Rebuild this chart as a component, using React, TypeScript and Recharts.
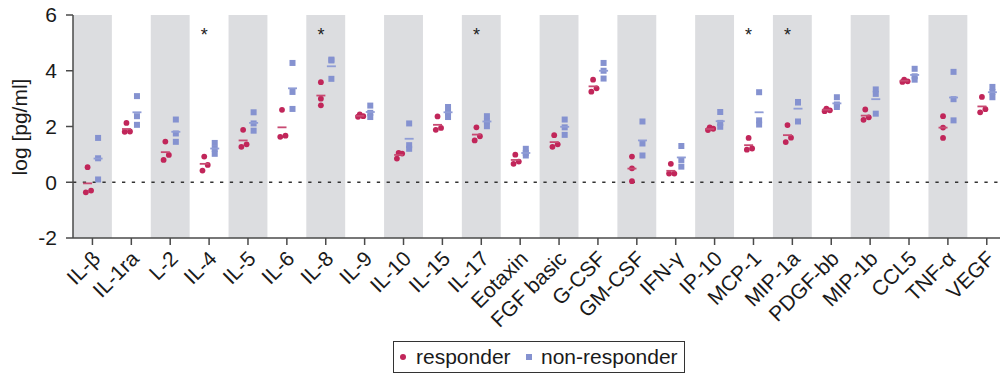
import React from 'react';
import { ScatterChart, Scatter, XAxis, YAxis, ReferenceArea, ReferenceLine } from 'recharts';

const categories = ['IL-β', 'IL-1ra', 'L-2', 'IL-4', 'IL-5', 'IL-6', 'IL-8', 'IL-9', 'IL-10', 'IL-15', 'IL-17', 'Eotaxin', 'FGF basic', 'G-CSF', 'GM-CSF', 'IFN-γ', 'IP-10', 'MCP-1', 'MIP-1a', 'PDGF-bb', 'MIP-1b', 'CCL5', 'TNF-α', 'VEGF'];

const responder: number[][] = [
  [0.54, -0.30, -0.36],
  [2.13, 1.82, 1.81],
  [1.46, 0.98, 0.80],
  [0.92, 0.62, 0.42],
  [1.88, 1.36, 1.27],
  [2.60, 1.67, 1.63],
  [3.59, 3.00, 2.76],
  [2.43, 2.37, 2.35],
  [1.05, 1.03, 0.85],
  [2.36, 1.95, 1.88],
  [1.97, 1.65, 1.50],
  [0.99, 0.74, 0.66],
  [1.69, 1.36, 1.27],
  [3.68, 3.37, 3.25],
  [0.92, 0.50, 0.04],
  [0.66, 0.31, 0.31],
  [1.97, 1.92, 1.87],
  [1.59, 1.21, 1.17],
  [2.05, 1.60, 1.44],
  [2.64, 2.58, 2.55],
  [2.61, 2.33, 2.24],
  [3.68, 3.62, 3.60],
  [2.37, 1.96, 1.59],
  [3.06, 2.62, 2.51],
];
const responderMean = [-0.04, 1.91, 1.08, 0.66, 1.50, 1.97, 3.11, 2.38, 0.98, 2.06, 1.71, 0.80, 1.44, 3.44, 0.49, 0.41, 1.91, 1.33, 1.69, 2.60, 2.39, 3.64, 1.96, 2.72];

const nonResponder: number[][] = [
  [1.59, 0.86, 0.10],
  [3.09, 2.37, 2.06],
  [2.25, 1.75, 1.45],
  [1.41, 1.20, 1.02],
  [2.51, 2.11, 1.85],
  [4.28, 3.24, 2.63],
  [4.40, 4.37, 3.71],
  [2.75, 2.49, 2.34],
  [2.11, 1.33, 1.20],
  [2.70, 2.50, 2.34],
  [2.37, 2.18, 2.01],
  [1.20, 1.05, 0.96],
  [2.25, 1.97, 1.70],
  [4.28, 4.00, 3.72],
  [2.18, 1.39, 0.96],
  [1.30, 0.80, 0.56],
  [2.52, 2.13, 1.99],
  [3.23, 2.22, 2.07],
  [2.88, 2.86, 2.18],
  [3.05, 2.79, 2.70],
  [3.33, 3.17, 2.46],
  [4.07, 3.80, 3.68],
  [3.96, 2.98, 2.22],
  [3.42, 3.24, 3.05],
];
const nonResponderMean = [0.85, 2.51, 1.81, 1.21, 2.13, 3.37, 4.16, 2.52, 1.56, 2.51, 2.18, 1.05, 1.99, 4.00, 1.50, 0.89, 2.19, 2.51, 2.64, 2.83, 2.98, 3.85, 3.04, 3.23];

const significant = ['IL-4', 'IL-8', 'IL-17', 'MCP-1', 'MIP-1a'];
const starLevel = 5.43;
const yTicks = [-2, 0, 2, 4, 6];

// layout offsets (category units)
const RESP_OFF = -0.125;
const RESP_SPREAD = 0.045;
const NON_OFF = 0.145;
const CLOSE = 0.22;

const RED = '#c1265a';
const RED_MEAN = '#c84a72';
const BLUE = '#8592d0';
const BLUE_MEAN = '#909dd6';
const FONT = '"Liberation Sans", Arial, Helvetica, sans-serif';

const respData: { x: number; y: number }[] = [];
responder.forEach((vals, i) => {
  const s = [...vals].sort((a, b) => b - a);
  const spread = s[1] - s[2] < CLOSE || s[0] - s[1] < CLOSE;
  respData.push({ x: i + RESP_OFF, y: s[0] });
  respData.push({ x: i + RESP_OFF + (spread ? 2 * RESP_SPREAD : 0), y: s[1] });
  respData.push({ x: i + RESP_OFF - (spread ? RESP_SPREAD : 0), y: s[2] });
});
const nonData = nonResponder.flatMap((vals, i) => vals.map((v) => ({ x: i + NON_OFF, y: v })));
const respMeanData = responderMean.map((v, i) => ({ x: i + RESP_OFF, y: v }));
const nonMeanData = nonResponderMean.map((v, i) => ({ x: i + NON_OFF, y: v }));
const starData = significant.map((c) => ({ x: categories.indexOf(c) + RESP_OFF, y: starLevel }));

const Dot = (p: any) => <circle cx={p.cx} cy={p.cy} r={2.9} fill={RED} />;
const Sq = (p: any) => <rect x={p.cx - 3} y={p.cy - 3} width={6} height={6} fill={BLUE} />;
const MeanR = (p: any) => <line x1={p.cx - 4.5} x2={p.cx + 4.5} y1={p.cy} y2={p.cy} stroke={RED_MEAN} strokeWidth={1.8} />;
const MeanB = (p: any) => <line x1={p.cx - 4.5} x2={p.cx + 4.5} y1={p.cy} y2={p.cy} stroke={BLUE_MEAN} strokeWidth={1.8} />;
const Star = (p: any) => (
  <text x={p.cx} y={p.cy + 10} textAnchor="middle" fontSize={18} fill="#222" fontFamily={FONT}>*</text>
);

const XTick = (p: any) => {
  const { x, y, payload } = p;
  return (
    <text transform={`translate(${x + 9},${y + 13}) rotate(-45)`} textAnchor="end" fontSize={21} fill="#1a1a1a" fontFamily={FONT}>
      {categories[payload.value]}
    </text>
  );
};

const YLabel = () => (
  <text transform="translate(27,127) rotate(-90)" textAnchor="middle" fontSize={21} fill="#1a1a1a" fontFamily={FONT}>
    log [pg/ml]
  </text>
);

export default function App() {
  const axisColor = '#4a4a4a';
  return (
    <div style={{ position: 'absolute', left: 0, top: 0, width: 1000, height: 377, background: '#fff', fontFamily: FONT }}>
      <ScatterChart width={1000} height={377} margin={{ top: 15, right: 0, bottom: 0, left: 0 }}>
        {categories.map((c, i) =>
          i % 2 === 0 ? (
            <ReferenceArea key={c} x1={i - 0.5} x2={i + 0.5} fill="#dcdde0" fillOpacity={1} stroke="none" ifOverflow="hidden" />
          ) : null
        )}
        <XAxis
          type="number"
          dataKey="x"
          domain={[-0.5, 23.34]}
          allowDataOverflow
          ticks={categories.map((_, i) => i)}
          interval={0}
          tick={<XTick />}
          tickSize={7}
          tickMargin={2}
          height={139}
          axisLine={{ stroke: axisColor, strokeWidth: 1.5 }}
          tickLine={{ stroke: axisColor, strokeWidth: 1.5 }}
        />
        <YAxis
          type="number"
          dataKey="y"
          domain={[-2, 6]}
          ticks={yTicks}
          allowDataOverflow
          width={73}
          tickSize={7}
          tickMargin={9}
          tick={{ fontSize: 21, fill: '#1a1a1a', fontFamily: FONT }}
          axisLine={{ stroke: axisColor, strokeWidth: 1.5 }}
          tickLine={{ stroke: axisColor, strokeWidth: 1.5 }}
          label={YLabel}
        />
        <ReferenceLine y={0} stroke="#333" strokeWidth={1.5} strokeDasharray="3.3 6.5" />
        <Scatter data={respData} shape={Dot} isAnimationActive={false} />
        <Scatter data={nonData} shape={Sq} isAnimationActive={false} />
        <Scatter data={respMeanData} shape={MeanR} isAnimationActive={false} />
        <Scatter data={nonMeanData} shape={MeanB} isAnimationActive={false} />
        <Scatter data={starData} shape={Star} isAnimationActive={false} />
      </ScatterChart>
      <div style={{ position: 'absolute', left: 393, top: 341, width: 292, height: 32, border: '1px solid #333', boxSizing: 'border-box' }}>
        <svg width={290} height={30} style={{ position: 'absolute', left: 0, top: 0 }}>
          <circle cx={9} cy={15} r={3} fill={RED} />
          <text x={22} y={22} fontSize={21} fill="#1a1a1a" fontFamily={FONT}>responder</text>
          <rect x={132} y={12} width={6} height={6} fill={BLUE} />
          <text x={147} y={22} fontSize={21} fill="#1a1a1a" fontFamily={FONT}>non-responder</text>
        </svg>
      </div>
    </div>
  );
}
